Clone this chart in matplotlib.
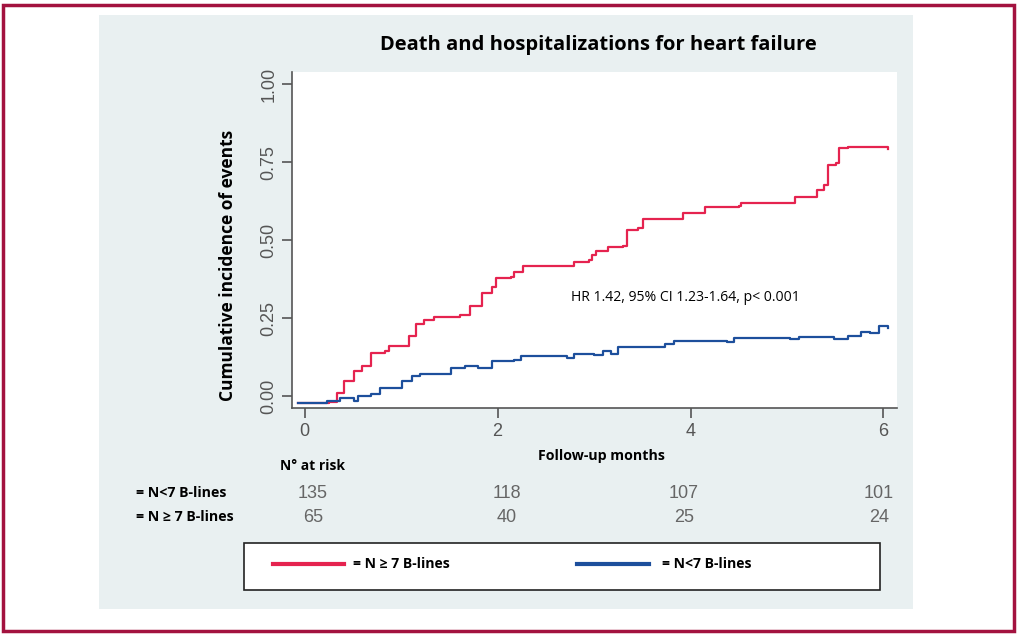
import matplotlib
matplotlib.use('Agg')
import matplotlib.pyplot as plt
from matplotlib.patches import Rectangle
from matplotlib.lines import Line2D

# curve for N >= 7 B-lines
high_months = [-0.07, 0.25, 0.34, 0.41, 0.51, 0.60, 0.69, 0.83, 0.88, 1.01, 1.08, 1.15,
               1.24, 1.34, 1.61, 1.71, 1.80, 1.84, 1.94, 1.98, 2.14, 2.17, 2.26, 2.72,
               2.79, 2.95, 2.98, 3.02, 3.14, 3.30, 3.34, 3.46, 3.51, 3.90, 3.92, 4.13,
               4.15, 4.50, 4.52, 5.05, 5.08, 5.26, 5.31, 5.38, 5.42, 5.51, 5.54, 5.63, 6.05]
high_incidence = [-0.022, -0.02, 0.011, 0.048, 0.080, 0.096, 0.139, 0.145, 0.161, 0.161,
                  0.193, 0.231, 0.244, 0.254, 0.259, 0.289, 0.289, 0.330, 0.351, 0.378,
                  0.383, 0.399, 0.416, 0.416, 0.432, 0.437, 0.453, 0.467, 0.479, 0.482,
                  0.534, 0.539, 0.568, 0.568, 0.587, 0.589, 0.607, 0.609, 0.621, 0.620,
                  0.640, 0.639, 0.662, 0.678, 0.743, 0.748, 0.796, 0.799, 0.794]

# curve for N < 7 B-lines
low_months = [-0.07, 0.23, 0.37, 0.51, 0.55, 0.69, 0.78, 0.92, 1.01, 1.11, 1.20, 1.34,
              1.52, 1.66, 1.80, 1.94, 2.17, 2.24, 2.72, 2.79, 3.00, 3.09, 3.18, 3.25,
              3.74, 3.83, 4.38, 4.45, 5.03, 5.12, 5.49, 5.63, 5.77, 5.86, 5.95, 6.05]
low_incidence = [-0.022, -0.016, -0.007, -0.016, 0.002, 0.007, 0.025, 0.027, 0.050,
                 0.064, 0.072, 0.070, 0.091, 0.096, 0.091, 0.112, 0.116, 0.129, 0.124,
                 0.134, 0.132, 0.144, 0.134, 0.158, 0.166, 0.177, 0.174, 0.186, 0.183,
                 0.190, 0.184, 0.193, 0.206, 0.203, 0.225, 0.219]

x_ticks = [0, 2, 4, 6]
y_ticks = [0.00, 0.25, 0.50, 0.75, 1.00]
risk_low = [135, 118, 107, 101]
risk_high = [65, 40, 25, 24]
risk_x = [313, 507, 684, 879]  # pixel centres of the at-risk numbers

RED = '#e5234f'
BLUE = '#1d4f9c'
BORDER = '#a3123f'
PANEL = '#e9f0f1'
GREY = '#555555'

W, H = 1022, 637
fig = plt.figure(figsize=(W / 100, H / 100), dpi=100)
fig.patch.set_facecolor('white')


def fx(px):
    return px / W


def fy(py):
    return 1 - py / H


# outer border and the grey panel (drawn under the axes)
fig.patches.append(Rectangle((fx(3), fy(631)), fx(1014) - fx(3), fy(5) - fy(631),
                             transform=fig.transFigure, fill=False, edgecolor=BORDER,
                             lw=2.5, zorder=-2))
fig.patches.append(Rectangle((fx(99), fy(609)), fx(913) - fx(99), fy(15) - fy(609),
                             transform=fig.transFigure, facecolor=PANEL, edgecolor='none',
                             zorder=-1))

ax = fig.add_axes([fx(292), fy(408), fx(897) - fx(292), fy(72) - fy(408)])
ax.set_facecolor('white')
ax.plot(high_months, high_incidence, color=RED, lw=1.6, drawstyle='steps-post')
ax.plot(low_months, low_incidence, color=BLUE, lw=1.6, drawstyle='steps-post')
ax.set_xlim(-0.13, 6.14)
ax.set_ylim(-0.038, 1.04)
ax.set_xticks(x_ticks)
ax.set_yticks(y_ticks)
ax.set_yticklabels(['%.2f' % v for v in y_ticks], rotation=90, va='center')
ax.tick_params(colors=GREY, labelsize=13, length=7, width=1.2, labelcolor=GREY)
for lab in ax.get_xticklabels() + ax.get_yticklabels():
    lab.set_family('Liberation Sans')
for side in ['top', 'right']:
    ax.spines[side].set_visible(False)
for side in ['left', 'bottom']:
    ax.spines[side].set_color(GREY)
    ax.spines[side].set_linewidth(1.2)

fig.text(fx(571), fy(297), 'HR 1.42, 95% CI 1.23-1.64, p< 0.001', fontsize=10.1,
         family='Open Sans', va='center', ha='left', color='black')

bold = dict(family='Open Sans', fontweight='bold', color='black')
fig.text(fx(598), fy(45), 'Death and hospitalizations for heart failure', fontsize=14.5,
         ha='center', va='center', **bold)
fig.text(fx(228), fy(265), 'Cumulative incidence of events', fontsize=12.5, rotation=90,
         ha='center', va='center', **bold)
fig.text(fx(601), fy(456), 'Follow-up months', fontsize=10.2, ha='center', va='center', **bold)
fig.text(fx(312), fy(466), 'N° at risk', fontsize=10, ha='center', va='center', **bold)
fig.text(fx(136), fy(493), '= N<7 B-lines', fontsize=10.2, ha='left', va='center', **bold)
fig.text(fx(136), fy(517), '= N \u2265 7 B-lines', fontsize=10.2, ha='left', va='center', **bold)

for x, lo, hi in zip(risk_x, risk_low, risk_high):
    fig.text(fx(x), fy(493), str(lo), fontsize=13, ha='center', va='center',
             color='#666666', family='Liberation Sans')
    fig.text(fx(x), fy(517), str(hi), fontsize=13, ha='center', va='center',
             color='#666666', family='Liberation Sans')

# legend box
fig.patches.append(Rectangle((fx(244), fy(590)), fx(880) - fx(244), fy(543) - fy(590),
                             transform=fig.transFigure, facecolor='white',
                             edgecolor='#222222', lw=1.2))
fig.lines.append(Line2D([fx(273), fx(344)], [fy(564), fy(564)], transform=fig.transFigure,
                        color=RED, lw=3))
fig.lines.append(Line2D([fx(577), fx(649)], [fy(564), fy(564)], transform=fig.transFigure,
                        color=BLUE, lw=3))
fig.text(fx(353), fy(564), '= N \u2265 7 B-lines', fontsize=10.1, ha='left', va='center', **bold)
fig.text(fx(662), fy(564), '= N<7 B-lines', fontsize=10.1, ha='left', va='center', **bold)

fig.savefig('out.png', dpi=100)
